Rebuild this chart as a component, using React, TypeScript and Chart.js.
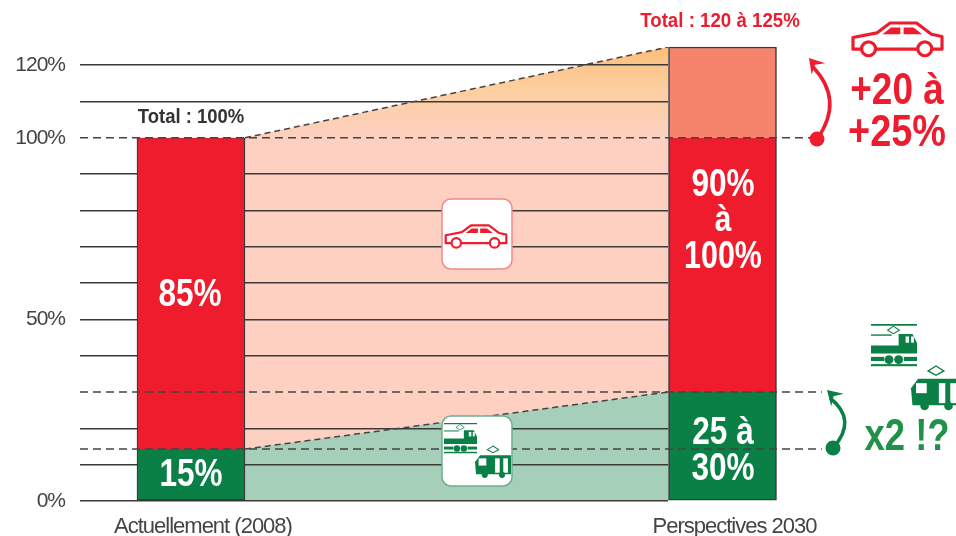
import React, { useEffect, useRef } from "react";
import { Chart, registerables } from "chart.js";

Chart.register(...registerables);

const FONT = '"Liberation Sans", sans-serif';

// Two periods, at x = 0 and x = 1 of the linear axis
const periodX = [0, 1];
const periodLabels = ["Actuellement (2008)", "Perspectives 2030"];

// Share of traffic, % of today's total
const transitTop = [14.3, 30];
const carTop = [100, 100];
const carExtraTop = [100, 125];

const bandX = [0.1016, 0.8975];
const axisMinX = -0.2088;
const refEndX = [1.178, 1.187, 1.187];
const refLevels = [100, 30, 14.3];

const yTicks = [0, 10, 20, 30, 40, 50, 60, 70, 80, 90, 100, 110, 120];
const yLabelled = [0, 50, 100, 120];

const RED = "#ed1c2e";
const GREEN = "#0a7f46";
const INK = "#444444";

function car(ctx: CanvasRenderingContext2D, x: number, y: number, w: number, lw: number) {
  const s = w / 275;
  const px = (a: number) => x + a * s;
  const py = (b: number) => y + b * s;
  ctx.save();
  ctx.strokeStyle = RED;
  ctx.fillStyle = "#fff";
  ctx.lineWidth = lw;
  ctx.lineJoin = "round";
  ctx.beginPath();
  ctx.moveTo(px(3), py(85));
  ctx.lineTo(px(3), py(50));
  ctx.lineTo(px(75), py(36));
  ctx.lineTo(px(115), py(6));
  ctx.lineTo(px(195), py(6));
  ctx.lineTo(px(240), py(40));
  ctx.lineTo(px(272), py(47));
  ctx.lineTo(px(272), py(85));
  ctx.closePath();
  ctx.stroke();
  ctx.fillStyle = RED;
  ctx.beginPath();
  ctx.moveTo(px(92), py(40));
  ctx.lineTo(px(118), py(20));
  ctx.lineTo(px(146), py(20));
  ctx.lineTo(px(146), py(40));
  ctx.closePath();
  ctx.moveTo(px(156), py(20));
  ctx.lineTo(px(186), py(20));
  ctx.lineTo(px(212), py(40));
  ctx.lineTo(px(156), py(40));
  ctx.closePath();
  ctx.fill();
  ctx.fillStyle = "#fff";
  [50, 220].forEach((cx) => {
    ctx.beginPath();
    ctx.arc(px(cx), py(84), 21 * s, 0, Math.PI * 2);
    ctx.fill();
    ctx.stroke();
  });
  ctx.restore();
}

function loco(ctx: CanvasRenderingContext2D, x: number, y: number, w: number) {
  const s = w / 133;
  ctx.save();
  ctx.translate(x, y);
  ctx.scale(s, s);
  ctx.fillStyle = GREEN;
  ctx.strokeStyle = GREEN;
  ctx.fillRect(0, 0, 133, 5);
  ctx.lineWidth = 3;
  ctx.beginPath();
  ctx.moveTo(65, 6);
  ctx.lineTo(82, 18);
  ctx.lineTo(65, 28);
  ctx.lineTo(48, 18);
  ctx.closePath();
  ctx.stroke();
  ctx.fillRect(0, 30, 60, 4);
  ctx.beginPath();
  ctx.moveTo(0, 62);
  ctx.lineTo(80, 62);
  ctx.lineTo(80, 29);
  ctx.lineTo(120, 29);
  ctx.lineTo(133, 55);
  ctx.lineTo(133, 85);
  ctx.lineTo(0, 85);
  ctx.closePath();
  ctx.fill();
  ctx.fillStyle = "#fff";
  ctx.fillRect(100, 36, 10, 18);
  ctx.fillRect(116, 36, 8, 18);
  ctx.fillStyle = GREEN;
  ctx.fillRect(0, 95, 38, 12);
  ctx.fillRect(95, 95, 38, 12);
  ctx.fillRect(0, 116, 133, 6);
  [52, 80].forEach((c) => {
    ctx.beginPath();
    ctx.arc(c, 103, 13, 0, Math.PI * 2);
    ctx.fill();
  });
  ctx.restore();
}

function tram(ctx: CanvasRenderingContext2D, x: number, y: number, w: number) {
  const s = w / 140;
  ctx.save();
  ctx.translate(x, y);
  ctx.scale(s, s);
  ctx.fillStyle = GREEN;
  ctx.strokeStyle = GREEN;
  ctx.lineWidth = 4;
  ctx.beginPath();
  ctx.moveTo(70, 0);
  ctx.lineTo(92, 14);
  ctx.lineTo(70, 26);
  ctx.lineTo(48, 14);
  ctx.closePath();
  ctx.stroke();
  ctx.beginPath();
  ctx.moveTo(4, 110);
  ctx.lineTo(0, 62);
  ctx.lineTo(20, 36);
  ctx.lineTo(140, 36);
  ctx.lineTo(140, 110);
  ctx.closePath();
  ctx.fill();
  ctx.fillStyle = "#fff";
  ctx.fillRect(14, 48, 30, 28);
  ctx.fillRect(78, 48, 18, 56);
  ctx.fillRect(110, 48, 18, 56);
  ctx.fillStyle = GREEN;
  [38, 105].forEach((c) => {
    ctx.beginPath();
    ctx.arc(c, 112, 12, 0, Math.PI * 2);
    ctx.fill();
  });
  ctx.restore();
}

function curvedArrow(
  ctx: CanvasRenderingContext2D,
  color: string,
  dot: [number, number],
  ctrl: [number, number],
  tip: [number, number]
) {
  ctx.save();
  ctx.strokeStyle = color;
  ctx.fillStyle = color;
  ctx.lineWidth = 3.5;
  ctx.beginPath();
  ctx.arc(dot[0], dot[1], 7.5, 0, Math.PI * 2);
  ctx.fill();
  ctx.beginPath();
  ctx.moveTo(dot[0], dot[1]);
  ctx.quadraticCurveTo(ctrl[0], ctrl[1], tip[0] + 3, tip[1] + 8);
  ctx.stroke();
  const a = Math.atan2(tip[1] - ctrl[1], tip[0] - ctrl[0]);
  const L = 17;
  ctx.beginPath();
  ctx.moveTo(tip[0], tip[1]);
  ctx.lineTo(tip[0] - L * Math.cos(a - 0.55), tip[1] - L * Math.sin(a - 0.55));
  ctx.lineTo(tip[0] - 9 * Math.cos(a), tip[1] - 9 * Math.sin(a));
  ctx.lineTo(tip[0] - L * Math.cos(a + 0.55), tip[1] - L * Math.sin(a + 0.55));
  ctx.closePath();
  ctx.fill();
  ctx.restore();
}

const overlay = {
  id: "overlay",
  beforeDraw(chart: any) {
    // The source's condensed face is not installed: tighten the axis text.
    chart.ctx.letterSpacing = "-1px";
  },
  afterDatasetsDraw(chart: any) {
    const ctx: CanvasRenderingContext2D = chart.ctx;
    const text = (t: string, x: number, y: number, size: number, color: string, sx = 0.83) => {
      ctx.save();
      (ctx as any).letterSpacing = "0px";
      ctx.translate(x, y);
      ctx.scale(sx, 1);
      ctx.font = `bold ${size}px ${FONT}`;
      ctx.fillStyle = color;
      ctx.textAlign = "center";
      ctx.textBaseline = "middle";
      ctx.fillText(t, 0, 0);
      ctx.restore();
    };
    // Bar labels
    text("85%", 190, 295.5, 38, "#fff");
    text("15%", 191, 476, 38, "#fff");
    text("90%", 723, 185.5, 38, "#fff");
    text("à", 723, 221, 36, "#fff");
    text("100%", 723, 257.5, 38, "#fff", 0.8);
    text("25 à", 723, 433.5, 38, "#fff");
    text("30%", 723, 470, 38, "#fff");
    text("Total : 100%", 191, 117, 21, "#333", 0.88);
    text("Total : 120 à 125%", 720, 21, 21, RED, 0.89);
    text("+20 à", 897, 91.5, 44, RED, 0.84);
    text("+25%", 897, 133.5, 44, RED, 0.86);
    text("x2 !?", 907, 437.5, 45, "#1f9148", 0.81);

    // Icon boxes in the band
    [
      [442, 199, "#ee8a8a"],
      [442, 416, "#6fae8e"],
    ].forEach(([x, y, c]) => {
      ctx.beginPath();
      ctx.roundRect(x as number, y as number, 70, 70, 9);
      ctx.fillStyle = "#fff";
      ctx.fill();
      ctx.strokeStyle = c as string;
      ctx.lineWidth = 1.5;
      ctx.stroke();
    });
    car(ctx, 445, 224, 62, 2.2);
    loco(ctx, 444, 423, 33);
    tram(ctx, 475, 446, 36);

    // Side icons
    car(ctx, 852, 21, 91, 3.2);
    loco(ctx, 871, 324, 46);
    tram(ctx, 911, 366, 50);

    curvedArrow(ctx, RED, [817, 139], [845, 100], [809, 58]);
    curvedArrow(ctx, GREEN, [833, 448], [858, 420], [827, 390]);
  },
};

export default function App() {
  const ref = useRef<HTMLCanvasElement>(null);
  useEffect(() => {
    const pts = (xs: number[], ys: number[]) => xs.map((x, i) => ({ x, y: ys[i] }));
    const refLine = (level: number, i: number) => ({
      type: "line",
      label: `ref${level}`,
      data: [
        { x: axisMinX, y: level },
        { x: refEndX[i], y: level },
      ],
      borderColor: INK,
      borderWidth: 1.5,
      borderDash: [8, 5],
      pointRadius: 0,
      fill: false,
      clip: false,
      order: 0,
    });
    const chart = new Chart(ref.current!, {
      data: {
        datasets: [
          {
            type: "line",
            label: "Transports collectifs (bande)",
            data: pts(bandX, transitTop),
            borderColor: INK,
            borderWidth: 1.5,
            borderDash: [6, 4],
            backgroundColor: "#a6cfb9",
            pointRadius: 0,
            fill: { value: 0 },
            order: 5,
          },
          {
            type: "line",
            label: "Voiture (bande)",
            data: pts(bandX, carTop),
            borderWidth: 0,
            backgroundColor: "#fdd0c1",
            pointRadius: 0,
            fill: { value: 0 },
            order: 5,
          },
          {
            type: "line",
            label: "Voiture, croissance (bande)",
            data: pts(bandX, carExtraTop),
            borderColor: INK,
            borderWidth: 1.5,
            borderDash: [6, 4],
            backgroundColor: (c: any) => {
              const y = c.chart.scales.y;
              const top = y ? y.getPixelForValue(125) : NaN;
              const bottom = y ? y.getPixelForValue(100) : NaN;
              if (!Number.isFinite(top) || !Number.isFinite(bottom)) return "#fdd0c1";
              const g = c.chart.ctx.createLinearGradient(0, top, 0, bottom);
              g.addColorStop(0, "#fdbd78");
              g.addColorStop(0.45, "#fdcfa0");
              g.addColorStop(1, "#fdd0c1");
              return g;
            },
            pointRadius: 0,
            fill: { value: 100 },
            order: 5,
          },
          {
            type: "bar",
            label: "Transports collectifs",
            data: periodX.map((x, i) => ({ x, y: [0, transitTop[i]] })),
            backgroundColor: GREEN,
            borderWidth: { left: 1.5, right: 1.5, top: 0, bottom: 1.5 },
            order: 2,
          },
          {
            type: "bar",
            label: "Voiture",
            data: periodX.map((x, i) => ({ x, y: [transitTop[i], carTop[i]] })),
            backgroundColor: "#ee1c2d",
            order: 2,
          },
          {
            type: "bar",
            label: "Voiture, croissance",
            data: [{ x: periodX[1], y: [carExtraTop[0], carExtraTop[1]] }],
            backgroundColor: "#f6836b",
            borderWidth: { left: 1.5, right: 1.5, top: 1.5, bottom: 0 },
            order: 2,
          },
          ...refLevels.map(refLine),
        ] as any,
      },
      options: {
        animation: false,
        responsive: false,
        parsing: { xAxisKey: "x", yAxisKey: "y" } as any,
        layout: { padding: { top: 47, right: 288, bottom: 0, left: 0 } },
        datasets: {
          bar: {
            grouped: false,
            barThickness: 108,
            borderColor: "#3a3a3a",
            borderWidth: { left: 1.5, right: 1.5, top: 0, bottom: 0 },
            borderSkipped: false,
            clip: false,
          },
        } as any,
        plugins: {
          legend: { display: false },
          title: { display: false },
          tooltip: { enabled: false },
          filler: { drawTime: "beforeDraw", propagate: false },
        } as any,
        scales: {
          x: {
            type: "linear",
            offset: false,
            min: axisMinX,
            max: bandX[1],
            afterBuildTicks: (s: any) => {
              s.ticks = periodX.map((value) => ({ value }));
            },
            afterFit: (s: any) => {
              s.height = 35;
            },
            grid: { display: false, offset: false },
            border: { display: false },
            ticks: {
              autoSkip: false,
              maxRotation: 0,
              padding: 5,
              labelOffset: 12,
              color: INK,
              font: { family: FONT, size: 22 },
              callback: (v: any) => periodLabels[periodX.indexOf(v)],
            },
          },
          y: {
            type: "linear",
            min: 0,
            max: 125,
            afterBuildTicks: (s: any) => {
              s.ticks = yTicks.map((value) => ({ value }));
            },
            afterFit: (s: any) => {
              s.width = 80;
            },
            border: { display: false },
            grid: {
              drawTicks: false,
              lineWidth: 1.5,
              color: (c: any) => (refLevels.includes(c.tick?.value) ? "transparent" : "#3a3a3a"),
            },
            ticks: {
              autoSkip: false,
              padding: 15,
              color: INK,
              font: { family: FONT, size: 21 },
              callback: (v: any) => (yLabelled.includes(v) ? `${v}%` : ""),
            },
          },
        },
      } as any,
      plugins: [overlay],
    } as any);
    return () => chart.destroy();
  }, []);
  return (
    <div style={{ position: "absolute", left: 0, top: 0, width: 956, height: 536, background: "#fff" }}>
      <canvas ref={ref} width={956} height={536} style={{ display: "block" }} />
    </div>
  );
}
